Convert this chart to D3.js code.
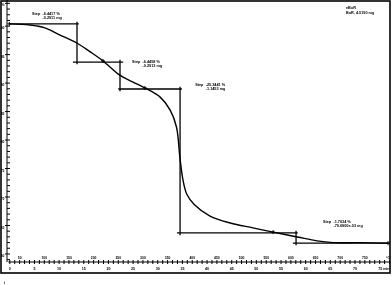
<!DOCTYPE html>
<html lang="en">
<head>
<meta charset="utf-8">
<title>TGA step evaluation</title>
<style>
  body { margin: 0; background: #fff; }
  svg { will-change: transform; }
  svg text { font-family: "Liberation Sans", Arial, sans-serif; font-weight: bold; fill: #000; }
</style>
</head>
<body>
<svg id="chart" width="392" height="285"></svg>

<script src="https://cdnjs.cloudflare.com/ajax/libs/d3/7.8.5/d3.min.js"></script>
<script>
// TGA curve, time in min, weight in %
var time   = [0, 4.2, 7.2, 10.3, 13.7, 16.4, 19.0, 22.4, 25.1, 27.5, 30.6, 32.6, 33.9, 34.6, 35.2, 36.0, 37.5, 40.7, 44.8, 49.4, 53.5, 58.4, 62.4, 65.7, 71.1, 76.8];
var weight = [100.3, 100.1, 99.6, 98.35, 96.95, 95.4, 93.8, 91.3, 90.1, 89.05, 87.45, 85.2, 82.2, 76.8, 73.0, 70.4, 68.6, 66.57, 65.35, 64.5, 63.75, 62.9, 62.2, 61.9, 61.9, 61.8];

// evaluation points on the curve
var markTime   = [0, 19.0, 27.5, 53.5, 76.8];
var markWeight = [100.3, 93.8, 89.05, 63.75, 61.8];

// step baselines and step positions
var levelValue = [100.3, 93.6, 88.87, 63.6, 61.83];
var levelStart = [0.1, 12.9, 22.1, 34.0, 57.5];
var levelEnd   = [14.1, 23.1, 35.0, 58.5, 77.2];
var stepTime   = [13.73, 22.45, 34.63, 58.15];

// step results
var stepPct = ["-6.4417 %", "-6.4458 %", "-25.3441 %", "-1.7634 %"];
var stepMg  = ["-0.2911 mg", "-0.2913 mg", "-1.1453 mg", "-79.6900e-03 mg"];
var stepLabelTime   = [4.6, 24.9, 37.7, 63.6];
var stepLabelWeight = [102.16, 93.66, 89.69, 65.57];

// axis labels
var weightTicks = [60, 65, 70, 75, 80, 85, 90, 95, 100, 104];
var timeTicks = [0, 5, 10, 15, 20, 25, 30, 35, 40, 45, 50, 55, 60, 65, 70, 75];
var tempTicks = [50, 100, 150, 200, 250, 300, 350, 400, 450, 500, 550, 600, 650, 700, 750, 800];

var svg = d3.select("#chart");

var x = d3.scaleLinear().domain([-0.2, 77.2]).range([8.3, 390]);
var xT = d3.scaleLinear().domain([28, 802]).range([8.3, 390]);   // 10 K/min from 30 °C
var y = d3.scaleLinear().domain([58.5, 104.5]).range([262, 0]);

// frame
svg.append("rect")
  .attr("x", 1).attr("y", 1).attr("width", 389).attr("height", 272)
  .attr("fill", "none").attr("stroke", "#000").attr("stroke-width", 1.6);

// y axis
var yAxis = svg.append("g")
  .attr("transform", "translate(7,0)")
  .call(d3.axisLeft(y).tickValues(d3.range(59, 105, 1)).tickSize(-3).tickFormat(""));
yAxis.select(".domain").attr("d", "M0," + y(104.5) + "V" + y(58.5));
yAxis.selectAll("line, path").attr("stroke", "#000").attr("stroke-width", 1);

var yLab = svg.append("g")
  .attr("transform", "translate(7,0)")
  .call(d3.axisLeft(y).tickValues(weightTicks).tickSize(2)
    .tickPadding(0.5)
    .tickFormat(function (d) { return d === 104 ? "%" : d; }));
yLab.select(".domain").remove();
yLab.selectAll("line").attr("stroke", "#000");
yLab.selectAll("text").attr("font-size", 3.4).attr("y", 2).attr("font-family", null);

// x axis (time)
var xAxis = svg.append("g")
  .attr("transform", "translate(0,262)")
  .call(d3.axisBottom(x).tickValues(d3.range(0, 78, 1)).tickSize(2).tickFormat(""));
xAxis.select(".domain").attr("d", "M8.3,0H390");
xAxis.selectAll("line").attr("y1", -2);
xAxis.selectAll("line, path").attr("stroke", "#000").attr("stroke-width", 1);

var xLab = svg.append("g")
  .attr("transform", "translate(0,262)")
  .call(d3.axisBottom(x).tickValues(timeTicks).tickSize(0).tickPadding(5)
    .tickFormat(function (d) { return d === 75 ? "75 min" : d; }));
xLab.select(".domain").remove();
xLab.selectAll("text").attr("font-size", 3.6).attr("font-family", null);
xLab.selectAll(".tick").filter(function (d) { return d === 75; })
  .select("text").attr("text-anchor", "start").attr("dx", -1.5);

// temperature labels
var tLab = svg.append("g")
  .attr("transform", "translate(0,262)")
  .call(d3.axisTop(xT).tickValues(tempTicks).tickSize(0).tickPadding(3)
    .tickFormat(function (d) { return d === 800 ? "°C" : d; }));
tLab.select(".domain").remove();
tLab.selectAll("text").attr("font-size", 3.4).attr("font-family", null);
tLab.selectAll(".tick").filter(function (d) { return d === 800; })
  .select("text").attr("dx", -1.5);

// step baselines
var g = svg.append("g").attr("stroke", "#000").attr("stroke-width", 1.3);
levelValue.forEach(function (v, i) {
  g.append("line")
    .attr("x1", x(levelStart[i])).attr("x2", x(levelEnd[i]))
    .attr("y1", y(v)).attr("y2", y(v));
});
stepTime.forEach(function (t, i) {
  g.append("line")
    .attr("x1", x(t)).attr("x2", x(t))
    .attr("y1", y(levelValue[i] + 0.4)).attr("y2", y(levelValue[i + 1] - 0.4));
});

// curve
var pts = time.map(function (t, i) { return [t, weight[i]]; });
svg.append("path")
  .datum(pts)
  .attr("fill", "none")
  .attr("stroke", "#000")
  .attr("stroke-width", 1.4)
  .attr("d", d3.line().x(function (d) { return x(d[0]); }).y(function (d) { return y(d[1]); }).curve(d3.curveCatmullRom.alpha(0.5)));

// evaluation markers
markTime.forEach(function (t, i) {
  var cx = x(t), cy = y(markWeight[i]);
  svg.append("path")
    .attr("d", "M" + (cx - 2) + "," + cy + "H" + (cx + 2) + "M" + cx + "," + (cy - 2) + "V" + (cy + 2))
    .attr("stroke", "#000").attr("stroke-width", 1);
});

// step labels
stepPct.forEach(function (p, i) {
  var lx = x(stepLabelTime[i]), ly = y(stepLabelWeight[i]);
  var t = svg.append("g").attr("font-size", 3.8);
  t.append("text").attr("x", lx).attr("y", ly + 1.3).text("Step");
  t.append("text").attr("x", lx + 10.5).attr("y", ly + 1.3).text(p);
  t.append("text").attr("x", lx + 10.5).attr("y", ly + 5.6).text(stepMg[i]);
});

// sample info
var info = svg.append("g").attr("font-size", 3.8);
info.append("text").attr("x", 346).attr("y", 9).text("eBuR");
info.append("text").attr("x", 346).attr("y", 13.6).text("BuR, 4.5190 mg");

svg.append("text").attr("x", 4).attr("y", 284).attr("font-size", 4).text("i");
</script>
</body>
</html>
